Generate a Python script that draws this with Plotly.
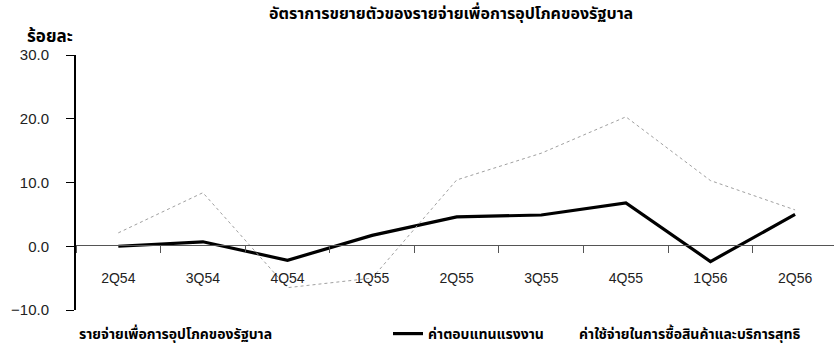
import plotly.graph_objects as go

# Quarters (Thai fiscal-year labels)
quarters = ["2Q54", "3Q54", "4Q54", "1Q55", "2Q55", "3Q55", "4Q55", "1Q56", "2Q56"]

# Growth rates, percent y/y
compensation = [0.0, 0.7, -2.2, 1.7, 4.6, 4.9, 6.8, -2.4, 5.0]
purchases = [2.1, 8.4, -6.5, -5.0, 10.4, 14.6, 20.3, 10.3, 5.7]

name_total = "รายจ่ายเพื่อการอุปโภคของรัฐบาล"
name_comp = "ค่าตอบแทนแรงงาน"
name_purch = "ค่าใช้จ่ายในการซื้อสินค้าและบริการสุทธิ"
title_text = "อัตราการขยายตัวของรายจ่ายเพื่อการอุปโภคของรัฐบาล"
y_unit = "ร้อยละ"

W, H = 834, 351
ML, MR, MT, MB = 76, 0, 55, 41
PW, PH = W - ML - MR, H - MT - MB

def px_x(p):
    return (p - ML) / PW

def px_y(p):
    return (H - MB - p) / PH

FONT = "Liberation Sans, Arial, sans-serif"
THAI = "Noto Sans Thai, Noto Sans, DejaVu Sans, sans-serif"

fig = go.Figure()

fig.add_trace(go.Scatter(
    x=quarters, y=compensation, mode="lines", name=name_comp,
    line=dict(color="black", width=3.2),
))
fig.add_trace(go.Scatter(
    x=quarters, y=purchases, mode="lines", name=name_purch,
    line=dict(color="#a0a0a0", width=1, dash="dot"),
    showlegend=False,
))

# key labels drawn without a key line
key_labels = [(name_total, 77), (name_purch, 577)]
annotations = [
    dict(text="<b>" + txt + "</b>", xref="paper", yref="paper",
         x=px_x(x0), y=px_y(334), xanchor="left", yanchor="middle",
         showarrow=False, font=dict(family=THAI, size=14, color="black"))
    for txt, x0 in key_labels
]
annotations += [
    dict(text="<b>" + title_text + "</b>", xref="paper", yref="paper",
         x=px_x(451), y=px_y(14), xanchor="center", yanchor="middle",
         showarrow=False, font=dict(family=THAI, size=16, color="black")),
    dict(text="<b>" + y_unit + "</b>", xref="paper", yref="paper",
         x=px_x(50), y=px_y(37), xanchor="center", yanchor="middle",
         showarrow=False, font=dict(family=THAI, size=17, color="black")),
]

fig.update_layout(
    width=W, height=H,
    margin=dict(l=ML, r=MR, t=MT, b=MB),
    paper_bgcolor="white", plot_bgcolor="white",
    font=dict(family=FONT, size=14, color="black"),
    showlegend=True,
    legend=dict(
        x=px_x(388), y=px_y(334), orientation="h",
        yanchor="middle", xanchor="left",
        bgcolor="rgba(0,0,0,0)", borderwidth=0,
        font=dict(family=THAI, size=14, color="black", weight="bold"),
    ),
    xaxis=dict(
        type="category", range=[-0.5, 8.46],
        showgrid=False, zeroline=False,
        showline=True, linecolor="#555555", linewidth=1,
        anchor="free", position=px_y(245),
        ticks="outside", ticklen=7, tickcolor="#555555",
        tickson="boundaries", ticklabelstandoff=20,
        tickfont=dict(family=FONT, size=14, color="#222222"),
    ),
    yaxis=dict(
        range=[-10, 30], tickvals=[-10, 0, 10, 20, 30],
        tickformat=".1f", showgrid=False, zeroline=False,
        showline=True, linecolor="black", linewidth=2,
        ticks="outside", ticklen=8, tickcolor="black",
        ticklabelstandoff=14,
        tickfont=dict(family=FONT, size=15, color="#222222"),
    ),
    annotations=annotations,
)

fig.write_html("out.html")
